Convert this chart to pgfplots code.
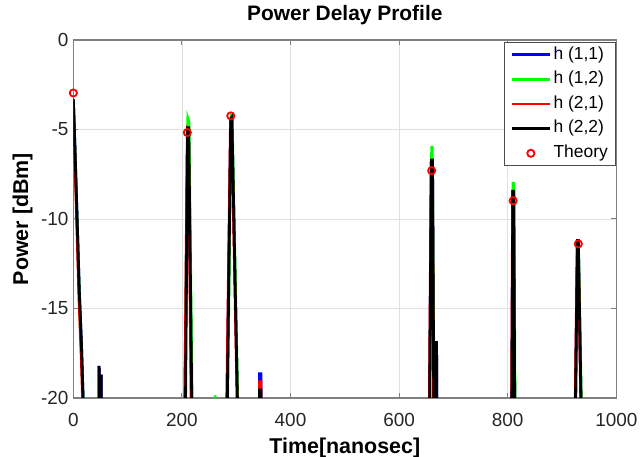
\documentclass[border=0pt]{standalone}
\usepackage{pgfplots}
\pgfplotsset{compat=1.18}
\usepackage{fontspec}
\setmainfont{Liberation Sans}
\definecolor{mblue}{RGB}{0,0,255}
\definecolor{mgreen}{RGB}{0,255,0}
\definecolor{mred}{RGB}{255,0,0}
\pgfplotsset{
  lineleg/.style={legend image code/.code={\fill[##1, draw=none] (0bp,-1.4bp) rectangle (38.6bp,1.4bp);}},
  markleg/.style={legend image code/.code={\path[draw=none] (0bp,0bp) -- (38.6bp,0bp);\draw[##1] plot coordinates {(19.3bp,0bp)};}},
}
\begin{document}
\begin{tikzpicture}
\path[use as bounding box] (-73.3bp,-59bp) rectangle (567.7bp,398bp);
\begin{axis}[
  at={(0,0)}, anchor=south west,
  scale only axis, width=543bp, height=358bp,
  xmin=0, xmax=1000, ymin=-20, ymax=0,
  xtick={0,200,400,600,800,1000},
  ytick={-20,-15,-10,-5,0},
  grid=major,
  grid style={draw=black!12, line width=0.8bp},
  axis line style={draw=black!50, line width=1.3bp},
  major tick style={draw=black!50, line width=1bp},
  major tick length=5bp,
  tick align=inside,
  /pgf/number format/assume math mode=true,
  /pgf/number format/1000 sep={},
  ticklabel style={font=\fontsize{19}{22}\selectfont, text=black!85},
  xticklabel style={anchor=base, yshift=-28.7bp},
  yticklabel style={xshift=-1.3bp},
  title={\textbf{Power Delay Profile}},
  every axis title/.style={at={(axis description cs:0.5,1.054)}, anchor=base, font=\fontsize{21}{25}\selectfont},
  xlabel={\textbf{Time[nanosec]}},
  every axis x label/.style={at={(axis description cs:0.5,-0.1564)}, anchor=base, font=\fontsize{21.5}{25}\selectfont},
  ylabel={\textbf{Power [dBm]}},
  every axis y label/.style={at={(axis description cs:-0.083,0.5)}, rotate=90, anchor=base, font=\fontsize{21.5}{25}\selectfont},
  legend style={at={(axis description cs:1,1)}, anchor=north east, xshift=-1.3bp, yshift=-2.4bp,
    draw=black!70,
    font=\fontsize{17.5}{21}\selectfont, fill=white, inner xsep=7bp, inner ysep=4bp,
    row sep=8bp, column sep=0bp,
    nodes={inner sep=0pt, text height=12.6bp, text depth=4bp}, cells={anchor=west}},
  legend cell align=left,
  clip=true,
]
\addplot[mblue, line width=2.8bp, lineleg] coordinates {
(0,-3.3) (3,-6) (7,-10) (11,-14) (15,-17) (19,-21) (22,-30)
(46,-30) (47.5,-18.2) (49,-30) (51,-30) (51.5,-18.7) (52.5,-30)
(203,-30) (205.5,-21) (210.5,-4.9) (212.5,-4.9) (218,-21) (220,-30)
(280,-30) (283,-20.5) (290,-4.4) (292,-4.3) (302.5,-20.5) (305,-30)
(342,-30) (343,-18.65) (345.5,-18.65) (347,-30)
(654,-30) (656,-21) (659.5,-6.7) (661.5,-6.7) (664,-21) (665.5,-30) (667,-16.9) (669,-16.9) (670,-30)
(805,-30) (807.5,-21) (809.5,-8.45) (811,-8.45) (813,-21) (815,-30)
(922,-30) (924.5,-21) (928.5,-11.2) (930,-11.2) (935.5,-21) (937,-30)
};
\addlegendentry{\hspace{3.4bp}h (1,1)}
\addplot[mgreen, line width=2.8bp, lineleg] coordinates {
(0,-3.3) (4,-7.2) (8,-11.3) (12,-15.2) (16,-18.5) (20,-22) (23,-30)
(201,-30) (205,-21) (211,-4.4) (213,-4.6) (219,-21) (221,-30)
(259,-30) (261,-19.85) (263,-30)
(280,-30) (283.8,-21) (290.4,-4.3) (292.4,-4.4) (303.3,-21) (306,-30)
(654,-30) (656.5,-21) (660,-6.0) (661,-6.0) (664.6,-21) (666,-30)
(805,-30) (808,-21) (810,-8.0) (811.2,-8.0) (813.6,-21) (815,-30)
(922,-30) (925,-21) (929,-11.3) (930.2,-11.3) (936,-21) (937,-30)
};
\addlegendentry{\hspace{3.4bp}h (1,2)}
\addplot[mred, line width=2.8bp, lineleg] coordinates {
(0,-3.3) (2.6,-6.2) (6.6,-10.4) (10.6,-14.5) (14.6,-17.6) (18.6,-21.5) (21,-30)
(202,-30) (205,-21.5) (210.1,-5.0) (212.1,-5.1) (217.5,-21.5) (220,-30)
(279,-30) (282.5,-20.5) (289.6,-4.5) (291.6,-4.4) (302,-20.5) (305,-30)
(342,-30) (343,-19.1) (345.5,-19.1) (347,-30)
(653,-30) (655.6,-21) (659.2,-6.8) (661.2,-6.8) (663.6,-21) (665,-30)
(804,-30) (807.1,-21) (809.2,-8.5) (810.8,-8.5) (812.6,-21) (814,-30)
(921,-30) (924.1,-21) (928.2,-11.3) (929.8,-11.3) (935.1,-21) (936,-30)
};
\addlegendentry{\hspace{3.4bp}h (2,1)}
\addplot[black, line width=2.8bp, lineleg] coordinates {
(0,-3.3) (3,-6) (7,-10) (11,-14) (15,-17) (19,-21) (22,-30)
(46,-30) (47.5,-18.2) (49,-30) (51,-30) (51.5,-18.7) (52.5,-30)
(203,-30) (206.5,-21) (210.5,-4.9) (212.5,-4.9) (218.5,-21) (220,-30)
(280,-30) (283.5,-20.5) (290,-4.4) (292,-4.3) (302.5,-20.5) (305,-30)
(342,-30) (343,-19.55) (345.5,-19.55) (347,-30)
(654,-30) (656,-21) (659.5,-6.7) (661.5,-6.7) (664,-21) (665.5,-30) (667,-16.9) (669,-16.9) (670,-30)
(805,-30) (807.5,-21) (809.5,-8.45) (811,-8.45) (813,-21) (815,-30)
(922,-30) (924.5,-21) (928.5,-11.2) (930,-11.2) (935.5,-21) (937,-30)
};
\addlegendentry{\hspace{3.4bp}h (2,2)}
\addplot[only marks, mark=o, mark size=3.6bp, mred, line width=1.8bp, markleg] coordinates {
(0,-2.96) (210,-5.17) (290,-4.24) (660,-7.3) (810,-8.98) (930,-11.39)
};
\addlegendentry{\hspace{3.4bp}Theory}
\end{axis}
\end{tikzpicture}
\end{document}
